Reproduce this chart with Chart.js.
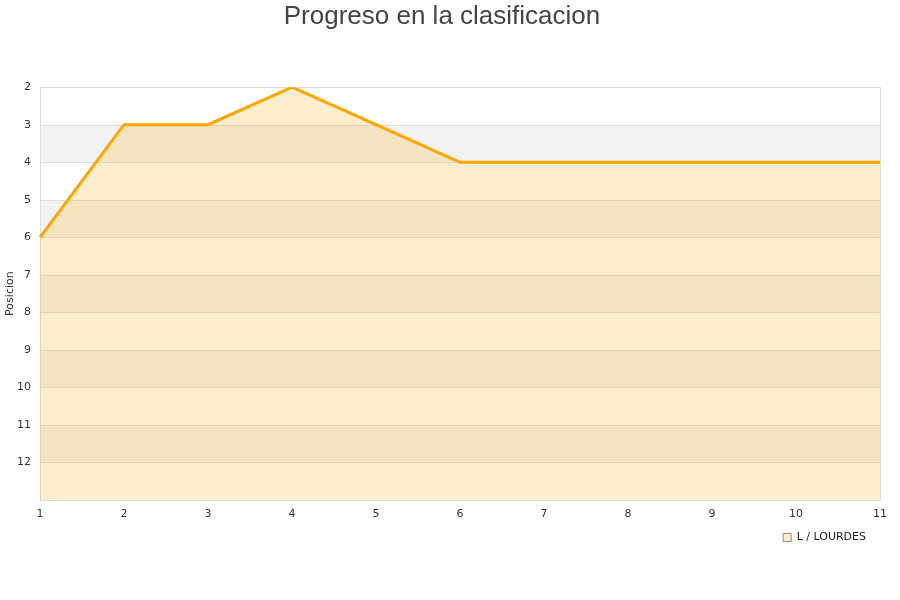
<!DOCTYPE html>
<html>
<head>
<meta charset="utf-8">
<script src="https://cdn.jsdelivr.net/npm/chart.js@4.4.0/dist/chart.umd.min.js"></script>
<style>
  body { margin: 0; background: #fff; }
  #wrap { width: 900px; height: 600px; }
</style>
</head>
<body>
<div id="wrap"><canvas id="myChart" width="900" height="600"></canvas></div>
<script>
const jornadas = ['1', '2', '3', '4', '5', '6', '7', '8', '9', '10', '11'];
const posiciones = [6, 3, 3, 2, 3, 4, 4, 4, 4, 4, 4];
const equipo = 'L / LOURDES';
const posMin = 2;
const posMax = 13;

// alternate grey bands behind the plot, one per position
const bandas = {
    id: 'bandas',
    beforeDatasetsDraw(chart) {
        const ctx = chart.ctx;
        const area = chart.chartArea;
        const y = chart.scales.y;
        ctx.save();
        ctx.fillStyle = '#f2f2f2';
        for (let v = posMin + 1; v < posMax; v += 2) {
            const top = y.getPixelForValue(v);
            const bottom = y.getPixelForValue(v + 1);
            ctx.fillRect(area.left, top, area.right - area.left, bottom - top);
        }
        ctx.strokeStyle = '#dddddd';
        ctx.lineWidth = 1;
        for (let v = posMin; v <= posMax; v++) {
            const p = Math.round(y.getPixelForValue(v)) + 0.5;
            ctx.beginPath();
            ctx.moveTo(area.left, p);
            ctx.lineTo(area.right, p);
            ctx.stroke();
        }
        ctx.beginPath();
        ctx.moveTo(Math.round(area.left) + 0.5, area.top);
        ctx.lineTo(Math.round(area.left) + 0.5, area.bottom);
        ctx.moveTo(Math.round(area.right) + 0.5, area.top);
        ctx.lineTo(Math.round(area.right) + 0.5, area.bottom);
        ctx.stroke();
        ctx.restore();
    }
};

window.onload = function () {
    const ctx = document.getElementById('myChart').getContext('2d');

    new Chart(ctx, {
        type: 'line',
        data: {
            labels: jornadas,
            datasets: [{
                label: equipo,
                data: posiciones,
                borderColor: '#ffa500',
                backgroundColor: 'rgba(255,165,0,0.2)',
                borderWidth: 3,
                pointRadius: 0,
                tension: 0,
                fill: 'start'
            }]
        },
        plugins: [bandas],
        options: {
            responsive: false,
            animation: false,
            layout: { padding: { top: 1, right: 20, bottom: 47, left: 4 } },
            plugins: {
                title: {
                    display: true,
                    text: 'Progreso en la clasificacion',
                    color: '#444444',
                    font: { family: 'Liberation Sans', size: 26, weight: 'normal' },
                    padding: { top: 0, bottom: 55 }
                },
                legend: {
                    position: 'bottom',
                    align: 'end',
                    labels: {
                        boxWidth: 8,
                        boxHeight: 8,
                        color: '#222',
                        font: { family: 'DejaVu Sans', size: 11 },
                        padding: 14,
                        generateLabels: function (chart) {
                            return [{
                                text: equipo,
                                fillStyle: '#ffeccc',
                                strokeStyle: '#9a8a70',
                                lineWidth: 1,
                                fontColor: '#222',
                                datasetIndex: 0
                            }];
                        }
                    }
                },
                tooltip: { enabled: false }
            },
            scales: {
                x: {
                    offset: false,
                    grid: { display: false },
                    border: { display: false },
                    afterFit: function (scale) { scale.height = 18; },
                    ticks: {
                        color: '#333',
                        font: { family: 'DejaVu Sans', size: 11 },
                        maxRotation: 0,
                        padding: 0
                    }
                },
                y: {
                    reverse: true,
                    min: posMin,
                    max: posMax,
                    grid: { display: false },
                    border: { display: false },
                    afterFit: function (scale) { scale.width = 36; },
                    title: {
                        display: true,
                        text: 'Posicion',
                        color: '#333',
                        font: { family: 'DejaVu Sans', size: 11 },
                        padding: 0
                    },
                    ticks: {
                        stepSize: 1,
                        color: '#333',
                        font: { family: 'DejaVu Sans', size: 11 },
                        padding: 1,
                        callback: function (v) { return v >= posMax ? '' : v; }
                    }
                }
            }
        }
    });
};
</script>
</body>
</html>
